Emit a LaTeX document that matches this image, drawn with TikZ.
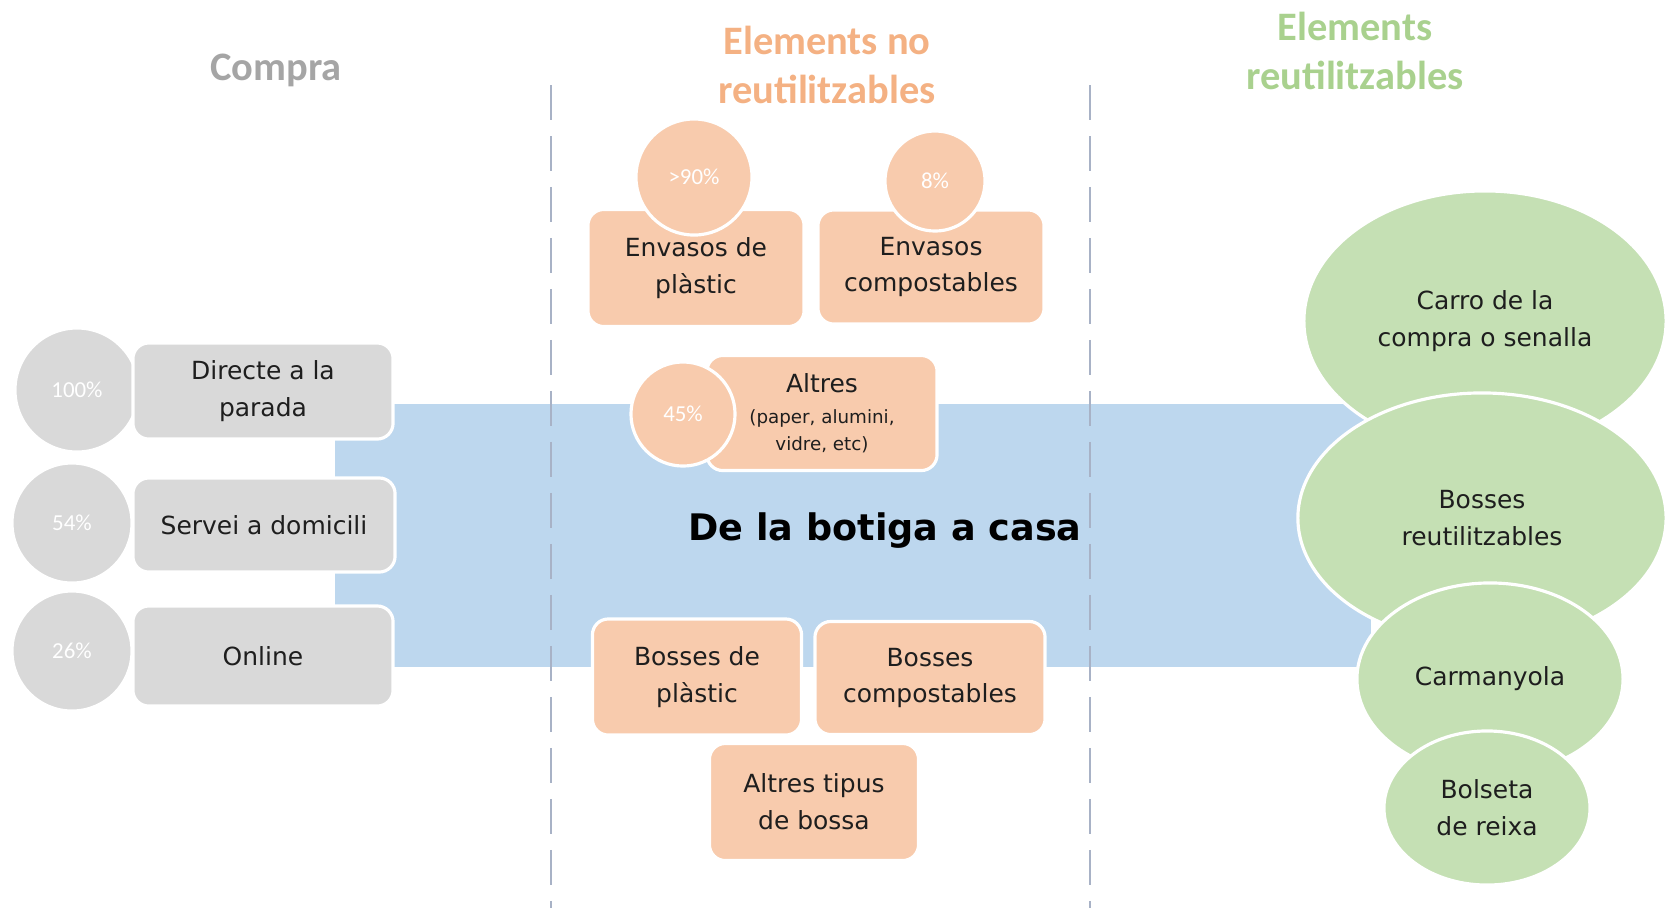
\documentclass[tikz,border=0pt]{standalone}
\usepackage{fontspec}
\setmainfont{DejaVu Sans}
\newfontfamily\calfont{Carlito}
\usetikzlibrary{shapes.geometric}

\definecolor{bandblue}{RGB}{189,215,238}
\definecolor{boxgray}{RGB}{217,217,217}
\definecolor{pinkfill}{RGB}{248,203,173}
\definecolor{greenfill}{RGB}{197,224,180}
\definecolor{graytitle}{RGB}{165,165,165}
\definecolor{pinktitle}{RGB}{244,177,131}
\definecolor{greentitle}{RGB}{169,209,142}
\definecolor{sepline}{RGB}{168,178,198}
\definecolor{textdark}{RGB}{30,30,30}

\newcommand{\boxfont}{\fontsize{7.1pt}{10.5pt}\selectfont}
\newcommand{\pctfont}{\calfont\fontsize{6.5pt}{7pt}\selectfont}
\newcommand{\headfont}{\calfont\bfseries\fontsize{11.5pt}{13.9pt}\selectfont}

\begin{document}
\begin{tikzpicture}[x=0.01cm,y=-0.01cm,
    graybox/.style={rectangle,rounded corners=4.5pt,fill=boxgray,draw=white,
      line width=0.9pt,inner sep=0pt,align=center,text=textdark,font=\boxfont},
    pinkbox/.style={graybox,fill=pinkfill},
    graydot/.style={circle,fill=boxgray,draw=white,line width=0.9pt,
      inner sep=0pt,text=white,font=\pctfont},
    pinkdot/.style={graydot,fill=pinkfill},
    oval/.style={ellipse,fill=greenfill,draw=white,line width=0.9pt,
      inner sep=0pt,align=center,text=textdark,font=\boxfont},
    head/.style={align=center,font=\headfont},
    sep/.style={sepline,line width=0.6pt,dash pattern=on 10pt off 4.5pt}]

    \useasboundingbox (0,0) rectangle (1666,911);

    \node [fill=bandblue,inner sep=0pt,minimum width=10.36cm,
    minimum height=2.63cm] (band) at (853,535.5) {};

    \coordinate (l1) at (551,85);
    \coordinate (l2) at (551,908);
    \coordinate (r1) at (1090,85);
    \coordinate (r2) at (1090,908);

    \draw [sep] (l1) -- (l2);
    \draw [sep] (r1) -- (r2);

    \node [head,text=graytitle] (compra) at (276,70) {Compra};
    \node [head,text=pinktitle] (noreut) at (827,65) {Elements no\\reutilitzables};
    \node [head,text=greentitle] (reut) at (1355,51) {Elements\\reutilitzables};

    \node [graydot,minimum size=1.24cm] (p100) at (77,390) {100\%};
    \node [graydot,minimum size=1.2cm] (p54) at (72,523) {54\%};
    \node [graydot,minimum size=1.2cm] (p26) at (72,651) {26\%};

    \node [graybox,minimum width=2.6cm,minimum height=0.96cm] (directe)
    at (263,391) {Directe a la\\parada};
    \node [graybox,minimum width=2.62cm,minimum height=0.94cm] (servei)
    at (264,525) {Servei a domicili};
    \node [graybox,minimum width=2.6cm,minimum height=1cm] (online)
    at (263,656) {Online};

    \node [pinkbox,minimum width=2.16cm,minimum height=1.17cm] (envplast)
    at (696,268) {Envasos de\\plàstic};
    \node [pinkbox,minimum width=2.26cm,minimum height=1.14cm] (envcomp)
    at (931,267) {Envasos\\compostables};
    \node [pinkdot,minimum size=1.16cm] (p90) at (694,177) {>90\%};
    \node [pinkdot,minimum size=1cm] (p8) at (935,181) {8\%};

    \node [pinkbox,minimum width=2.3cm,minimum height=1.15cm,
    font=\fontsize{5.2pt}{7.7pt}\selectfont] (altres) at (822,413)
    {{\boxfont Altres}\\[1pt](paper, alumini,\\vidre, etc)};
    \node [pinkdot,minimum size=1.04cm] (p45) at (683,414) {45\%};

    \node [font=\bfseries\fontsize{10.4pt}{12pt}\selectfont,text=black]
    (titol) at (885,531) {De la botiga a casa};

    \node [pinkbox,minimum width=2.09cm,minimum height=1.16cm] (bossplast)
    at (697,677) {Bosses de\\plàstic};
    \node [pinkbox,minimum width=2.3cm,minimum height=1.13cm] (bosscomp)
    at (930,678) {Bosses\\compostables};
    \node [pinkbox,minimum width=2.09cm,minimum height=1.17cm] (altrestip)
    at (814,802) {Altres tipus\\de bossa};

    \node [oval,minimum width=3.62cm,minimum height=2.6cm] (carro)
    at (1485,321) {Carro de la\\compra o senalla};
    \node [oval,minimum width=3.68cm,minimum height=2.5cm] (bossreut)
    at (1482,518) {Bosses\\reutilitzables};
    \node [oval,minimum width=2.66cm,minimum height=1.92cm] (carman)
    at (1490,679) {Carmanyola};
    \node [oval,minimum width=2.06cm,minimum height=1.54cm] (bolseta)
    at (1487,808) {Bolseta\\de reixa};
  \end{tikzpicture}
\end{document}
